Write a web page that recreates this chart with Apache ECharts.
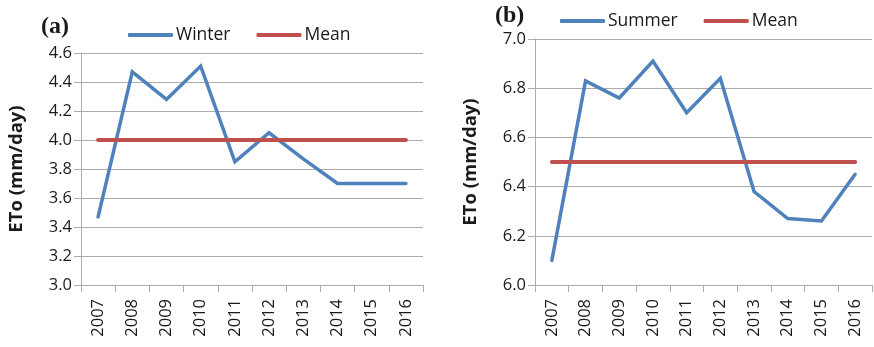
<!DOCTYPE html>
<html>
<head>
<meta charset="utf-8">
<script src="https://cdn.jsdelivr.net/npm/echarts@6/dist/echarts.min.js"></script>
<style>
  html, body { margin: 0; padding: 0; background: #fff; }
  #chart { width: 874px; height: 347px; }
</style>
</head>
<body>
<div id="chart"></div>
<script>
// Years on the horizontal axis of both panels
const years = ['2007', '2008', '2009', '2010', '2011', '2012', '2013', '2014', '2015', '2016'];

// Seasonal reference evapotranspiration (mm/day)
const winterETo = [3.47, 4.47, 4.28, 4.51, 3.85, 4.05, 3.87, 3.70, 3.70, 3.70];
const winterMean = [4.0, 4.0, 4.0, 4.0, 4.0, 4.0, 4.0, 4.0, 4.0, 4.0];
const summerETo = [6.10, 6.83, 6.76, 6.91, 6.70, 6.84, 6.38, 6.27, 6.26, 6.45];
const summerMean = [6.5, 6.5, 6.5, 6.5, 6.5, 6.5, 6.5, 6.5, 6.5, 6.5];

// Y axis ranges and tick spacing for each panel
const winterAxis = { min: 3.0, max: 4.6, interval: 0.2 };
const summerAxis = { min: 6.0, max: 7.0, interval: 0.2 };

const FONT = '"Open Sans", "Noto Sans", sans-serif';
const BLUE = '#4F81BD';
const RED = '#C0504D';
const GRID_GRAY = '#ABABAB';
const TEXT = '#1a1a1a';

function xAxisFor(gridIndex) {
  return {
    type: 'category',
    gridIndex: gridIndex,
    data: years,
    boundaryGap: true,
    axisLine: { lineStyle: { color: GRID_GRAY, width: 1 } },
    axisTick: { show: true, length: 7, lineStyle: { color: GRID_GRAY } },
    axisLabel: {
      rotate: 90, margin: 14, color: TEXT,
      fontFamily: FONT, fontSize: 16.5
    },
    splitLine: { show: false }
  };
}

function yAxisFor(gridIndex, range, gap) {
  return {
    type: 'value',
    gridIndex: gridIndex,
    min: range.min, max: range.max, interval: range.interval,
    name: 'ETo (mm/day)',
    nameLocation: 'middle',
    nameGap: gap,
    nameTextStyle: { fontFamily: FONT, fontSize: 18.5, fontWeight: 'bold', color: TEXT },
    axisLine: { show: true, lineStyle: { color: GRID_GRAY, width: 1 } },
    axisTick: { show: true, length: 7, lineStyle: { color: GRID_GRAY } },
    axisLabel: {
      margin: 9, color: TEXT, fontFamily: FONT, fontSize: 16.5,
      formatter: v => v.toFixed(1)
    },
    splitLine: { show: true, lineStyle: { color: GRID_GRAY, width: 1 } }
  };
}

function lineSeries(name, data, idx, color, width) {
  return {
    name: name, type: 'line',
    xAxisIndex: idx, yAxisIndex: idx,
    data: data,
    showSymbol: false, symbol: 'none',
    lineStyle: { color: color, width: width, cap: 'round', join: 'miter' },
    itemStyle: { color: color },
    animation: false
  };
}

const legendCommon = {
  orient: 'horizontal',
  icon: 'roundRect',
  itemWidth: 45, itemHeight: 4,
  itemGap: 26,
  padding: 0,
  textStyle: { fontFamily: FONT, fontSize: 17.5, color: TEXT, padding: [0, 0, 0, -2] }
};

const chart = echarts.init(document.getElementById('chart'), null, { renderer: 'canvas' });
chart.setOption({
  animation: false,
  backgroundColor: '#ffffff',
  title: [
    { text: '(a)', left: 36, top: 10,
      textStyle: { fontFamily: '"Liberation Serif", serif', fontWeight: 'bold', fontSize: 24, color: TEXT } },
    { text: '(b)', left: 490, top: -1,
      textStyle: { fontFamily: '"Liberation Serif", serif', fontWeight: 'bold', fontSize: 24, color: TEXT } }
  ],
  legend: [
    Object.assign({}, legendCommon, { data: ['Winter', 'Mean'], left: 128, top: 26 }),
    Object.assign({}, legendCommon, { data: ['Summer', 'Mean '], left: 560, top: 12 })
  ],
  grid: [
    { left: 81, right: 451, top: 53, bottom: 62 },
    { left: 535, right: 2, top: 39, bottom: 62 }
  ],
  xAxis: [xAxisFor(0), xAxisFor(1)],
  yAxis: [yAxisFor(0, winterAxis, 55), yAxisFor(1, summerAxis, 55)],
  series: [
    lineSeries('Winter', winterETo, 0, BLUE, 3.5),
    lineSeries('Mean', winterMean, 0, RED, 4),
    lineSeries('Summer', summerETo, 1, BLUE, 3.5),
    lineSeries('Mean ', summerMean, 1, RED, 4)
  ]
});
</script>
</body>
</html>
